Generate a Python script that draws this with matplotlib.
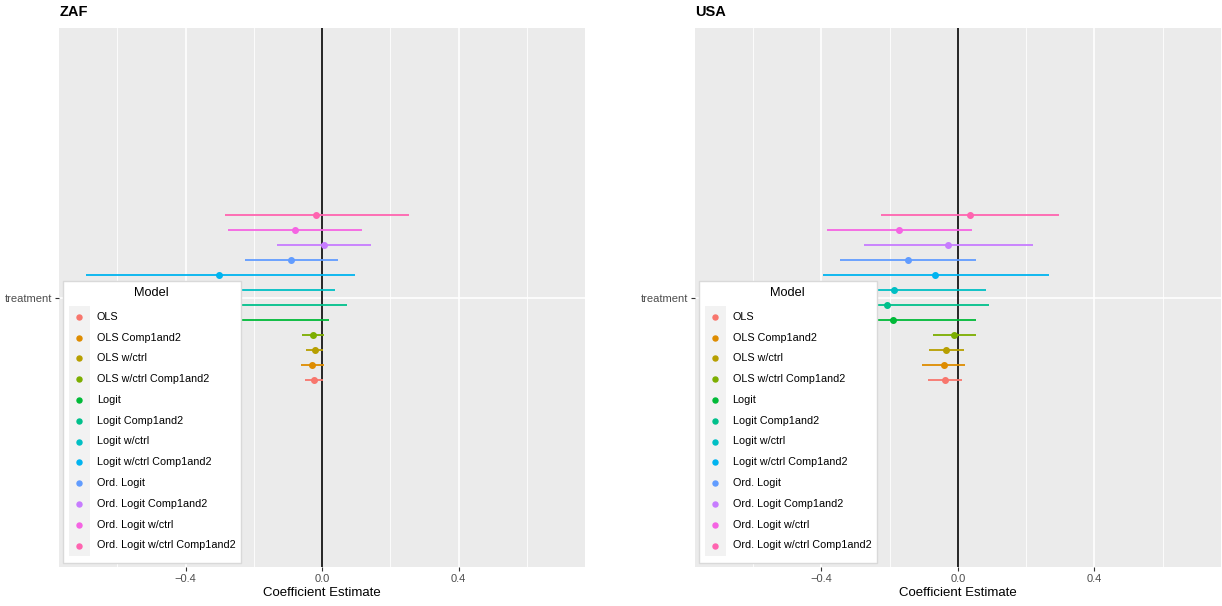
import matplotlib
matplotlib.use("Agg")
import matplotlib.pyplot as plt
from matplotlib.patches import Rectangle
from matplotlib.lines import Line2D

plt.rcParams['font.family'] = ['Liberation Sans', 'DejaVu Sans']

models = ["OLS", "OLS Comp1and2", "OLS w/ctrl", "OLS w/ctrl Comp1and2",
          "Logit", "Logit Comp1and2", "Logit w/ctrl", "Logit w/ctrl Comp1and2",
          "Ord. Logit", "Ord. Logit Comp1and2", "Ord. Logit w/ctrl",
          "Ord. Logit w/ctrl Comp1and2"]
colors = ["#F8766D", "#DE8C00", "#B79F00", "#7CAE00", "#00BA38", "#00C08B",
          "#00BFC4", "#00B4F0", "#619CFF", "#C77CFF", "#F564E3", "#FF64B0"]

zaf_est = [-0.024, -0.028, -0.022, -0.027, -0.33, -0.30, -0.35, -0.303,
           -0.091, 0.006, -0.079, -0.018]
zaf_lo = [-0.050, -0.061, -0.048, -0.060, -0.68, -0.67, -0.74, -0.691,
          -0.227, -0.131, -0.276, -0.284]
zaf_hi = [0.002, 0.007, 0.003, 0.007, 0.019, 0.073, 0.039, 0.097,
          0.046, 0.143, 0.116, 0.254]

usa_est = [-0.038, -0.042, -0.034, -0.011, -0.189, -0.208, -0.188, -0.067,
           -0.147, -0.028, -0.172, 0.036]
usa_lo = [-0.089, -0.105, -0.086, -0.073, -0.43, -0.507, -0.458, -0.396,
          -0.345, -0.276, -0.383, -0.225]
usa_hi = [0.013, 0.020, 0.017, 0.053, 0.054, 0.091, 0.082, 0.266,
          0.053, 0.219, 0.041, 0.297]

W, H = 1222, 606
fig = plt.figure(figsize=(W / 100, H / 100), dpi=100)


def fx(px):
    return px / W


def fy(py):
    return 1 - py / H


def panel(left, title, est, lo, hi):
    ax = fig.add_axes([fx(left), fy(567), (525.5) / W, (567 - 28) / H])
    ax.set_facecolor("#EBEBEB")
    for s in ax.spines.values():
        s.set_visible(False)
    ax.set_xlim(-0.77, 0.77)
    ax.set_ylim(0.4, 1.6)
    ax.set_xticks([-0.4, 0.0, 0.4])
    ax.set_xticklabels(["\u22120.4", "0.0", "0.4"])
    ax.set_xticks([-0.6, -0.2, 0.2, 0.6], minor=True)
    ax.set_yticks([1])
    ax.set_yticklabels(["treatment"])
    ax.grid(True, which="major", color="white", linewidth=1.2)
    ax.grid(True, which="minor", axis="x", color="white", linewidth=0.6)
    ax.set_axisbelow(True)
    ax.tick_params(which="major", length=3, width=0.8, color="#333333",
                   labelsize=8, labelcolor="#4D4D4D", pad=2)
    ax.tick_params(which="minor", length=0)
    ax.axvline(0, color="black", linewidth=1.2, zorder=2)
    n = len(models)
    for i, m in enumerate(models):
        y = 1 + (i - (n - 1) / 2) * 0.4 / n
        ax.hlines(y, lo[i], hi[i], color=colors[i], linewidth=1.3, zorder=3)
        ax.plot(est[i], y, "o", color=colors[i], markersize=4, zorder=4)
    ax.set_xlabel("Coefficient Estimate", fontsize=9.5, labelpad=2)
    fig.text(fx(left), fy(12.5), title, fontsize=10.5, fontweight="bold",
             va="center", ha="left")

    # legend drawn on top of the panel, lower left
    bx = left + 3.4
    fig.add_artist(Rectangle((fx(bx), fy(562.5)), 178.5 / W, (562.5 - 281) / H,
                             transform=fig.transFigure, facecolor="white",
                             edgecolor="#D9D9D9", linewidth=1.0, zorder=10))
    fig.add_artist(Rectangle((fx(bx + 6.5), fy(555.7)), 21 / W, (555.7 - 305.7) / H,
                             transform=fig.transFigure, facecolor="#F2F2F2",
                             edgecolor="none", zorder=11))
    fig.text(fx(bx + 89), fy(293.3), "Model", fontsize=9.2, ha="center",
             va="center", zorder=12)
    for i, m in enumerate(models):
        yy = 316.7 + i * 20.8
        fig.add_artist(Line2D([fx(bx + 16.6)], [fy(yy)], marker="o", markersize=3.6,
                              color=colors[i], linestyle="none",
                              transform=fig.transFigure, zorder=12))
        fig.text(fx(bx + 34), fy(yy), m, fontsize=7.75, ha="left", va="center",
                 zorder=12)
    return ax


panel(59.3, "ZAF", zaf_est, zaf_lo, zaf_hi)
panel(695.2, "USA", usa_est, usa_lo, usa_hi)

fig.savefig("out.png", dpi=100)
